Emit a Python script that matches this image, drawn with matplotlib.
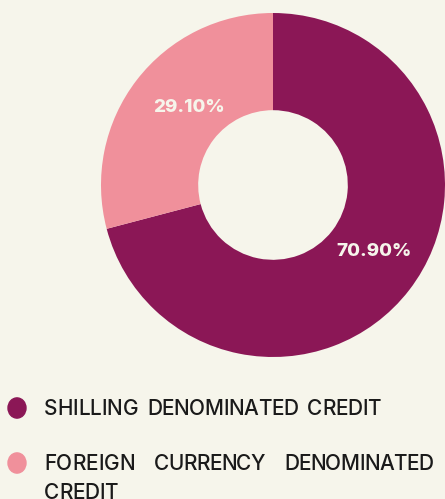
import matplotlib
matplotlib.use("Agg")
import matplotlib.pyplot as plt
from matplotlib.font_manager import FontProperties

# data
categories = ["SHILLING DENOMINATED CREDIT", "FOREIGN CURRENCY DENOMINATED CREDIT"]
shares = [70.90, 29.10]
colors = ["#8b1756", "#f0909b"]

BG = "#f6f5eb"
W, H = 445, 499

fig = plt.figure(figsize=(W / 100, H / 100), dpi=100, facecolor=BG)

# donut: centre (273,185) px, outer radius 172 px
ax = fig.add_axes([101 / W, 1 - 357 / H, 344 / W, 344 / H])
ax.set_facecolor(BG)
wedges, texts, autotexts = ax.pie(
    shares, colors=colors, startangle=90, counterclock=False,
    radius=1.0, wedgeprops=dict(width=0.565, linewidth=0),
    autopct="%.2f%%", pctdistance=0.68,
    textprops=dict(color="#f6f5eb", fontsize=13.5, fontweight="heavy",
                   family="Inter"))
# nudge labels to where they sit in the reference
autotexts[0].set_position((0.59, -0.385))
autotexts[1].set_position((-0.49, 0.45))
ax.set_xlim(-1, 1)
ax.set_ylim(-1, 1)
ax.set_aspect("equal")
ax.axis("off")

# legend drawn by hand (letter-spaced, justified like the original)
fp = FontProperties(family="Inter", size=15, weight="medium")
renderer = fig.canvas.get_renderer()


def char_width(ch):
    w, h, d = renderer.get_text_width_height_descent(ch, fp, ismath=False)
    return w


def spaced_word(word, x0, x1, y):
    widths = [char_width(c) for c in word]
    gap = (x1 - x0 - sum(widths)) / max(len(word) - 1, 1)
    x = x0
    for c, w in zip(word, widths):
        fig.text(x / W, 1 - y / H, c, fontproperties=fp, color="#1a1a1a",
                 ha="left", va="baseline")
        x += w + gap


# (word, left px, right px, baseline y px)
legend_words = [
    [("SHILLING", 44, 138, 415), ("DENOMINATED", 147, 298, 415), ("CREDIT", 307, 381, 415)],
    [("FOREIGN", 44, 135, 470), ("CURRENCY", 154, 265, 470), ("DENOMINATED", 284, 433, 470),
     ("CREDIT", 44, 118, 499)],
]
marker_y = [408, 463]

for i, words in enumerate(legend_words):
    fig.patches.append(plt.Circle((17 / W, 1 - marker_y[i] / H), 9 / W,
                                  transform=fig.transFigure, color=colors[i]))
    for word, x0, x1, y in words:
        spaced_word(word, x0, x1, y)

fig.savefig("out.png", dpi=100, facecolor=BG)
